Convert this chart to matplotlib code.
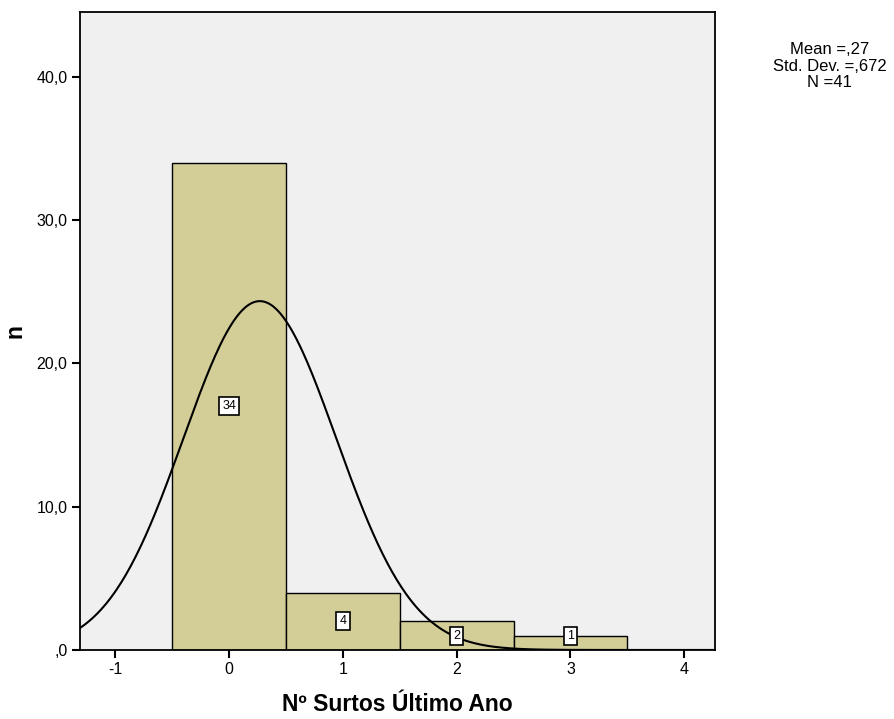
import matplotlib.pyplot as plt
import numpy as np

plt.rcParams['font.family'] = ['Liberation Sans', 'DejaVu Sans']

# histogram data
bins = [0, 1, 2, 3]
counts = [34, 4, 2, 1]
mean = 0.27
std = 0.672
n = 41
yticks = [0, 10, 20, 30, 40]
ytick_labels = [',0', '10,0', '20,0', '30,0', '40,0']
xticks = [-1, 0, 1, 2, 3, 4]

fig = plt.figure(figsize=(8.94, 7.19), dpi=100)
ax = fig.add_axes([0.0895, 0.096, 0.7103, 0.887])
ax.set_facecolor('#F0F0F0')

ax.bar(bins, counts, width=1.0, color='#D3CE97', edgecolor='black', linewidth=1.0, zorder=2)

# normal curve
xs = np.linspace(-1.31, 4.27, 400)
ys = n * 1.0 / (std * np.sqrt(2 * np.pi)) * np.exp(-0.5 * ((xs - mean) / std) ** 2)
ax.plot(xs, ys, color='black', lw=1.5, zorder=3)

# count labels
for b, c in zip(bins, counts):
    ax.text(b, max(c / 2, 0.95), str(c), ha='center', va='center', fontsize=9, zorder=4,
            bbox=dict(boxstyle='square,pad=0.25', fc='white', ec='black', lw=1.2))

ax.set_xlim(-1.31, 4.27)
ax.set_ylim(0, 44.5)
ax.set_xticks(xticks)
ax.set_xticklabels([str(t) for t in xticks])
ax.set_yticks(yticks)
ax.set_yticklabels(ytick_labels)
ax.tick_params(direction='out', length=6, width=1.5, labelsize=11.5, pad=3)
for s in ax.spines.values():
    s.set_linewidth(1.3)

ax.set_xlabel('Nº Surtos Último Ano', fontsize=16.5, fontweight='bold', labelpad=11)
ax.set_ylabel('n', fontsize=16.5, fontweight='bold')
ax.yaxis.set_label_coords(-0.084, 0.5)

fig.text(0.928, 0.908, 'Mean =,27\nStd. Dev. =,672\nN =41', ha='center', va='center',
         fontsize=12, linespacing=1.12)

fig.savefig('out.png', dpi=100)
